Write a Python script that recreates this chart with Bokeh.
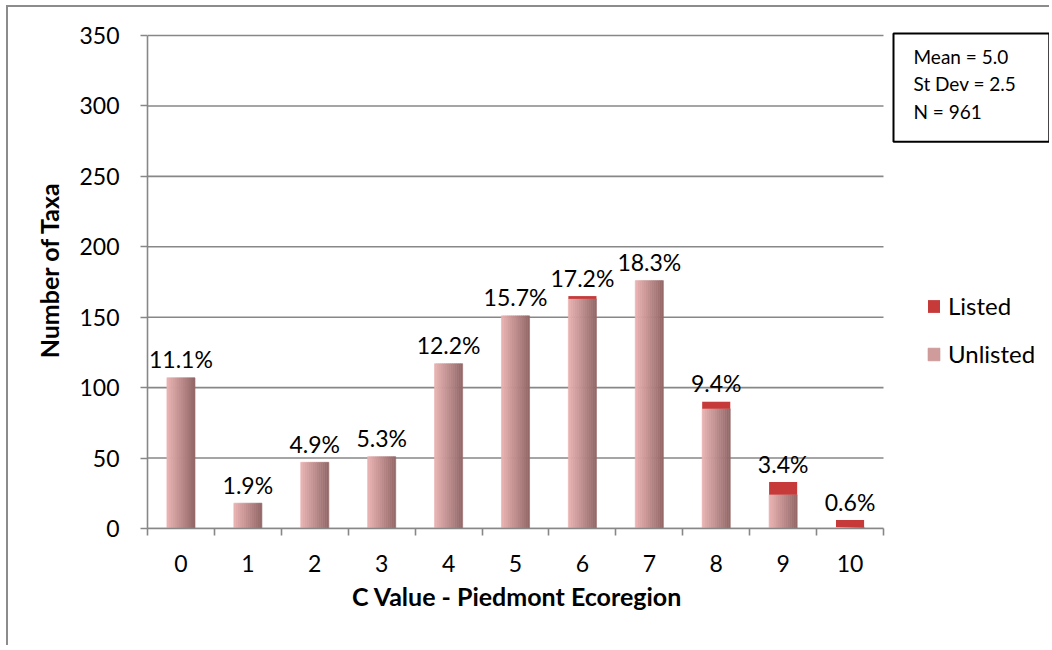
import numpy as np
from bokeh.plotting import figure
from bokeh.models import ColumnDataSource, Range1d, FixedTicker, Label, Legend, LegendItem, Title
from bokeh.transform import dodge
from bokeh.core.properties import value
from bokeh.embed import file_html
from bokeh.resources import INLINE

# ---------------- data ----------------
c_values = list(range(11))
unlisted = [107, 18, 47, 51, 117, 151, 163, 176, 85, 24, 1]
listed = [0, 0, 0, 0, 0, 0, 2, 0, 5, 9, 5]
tick_labels = ["0", "1", "2", "3", "4", "5", "6", "7", "8", "9", "10"]
y_ticks = [0, 50, 100, 150, 200, 250, 300, 350]
stats_lines = ["Mean = 5.0", "St Dev = 2.5", "N = 961"]
x_title = "C Value - Piedmont Ecoregion"
y_title = "Number of Taxa"
series_names = ["Listed", "Unlisted"]

total = [u + l for u, l in zip(unlisted, listed)]
n_total = sum(total)
pct = ["%.1f%%" % (100.0 * t / n_total) for t in total]

src = ColumnDataSource(dict(c=c_values, unlisted=unlisted, listed=listed,
                            total=total, pct=pct))

FONT = "Lato"
GRID = "#878787"

# layout (canvas pixels): plotting area of the categories, and the wider frame
W, H = 1043, 640
PL, PR, PT, PB = 139, 875, 28, 521
FT = 24                      # frame top (a bit above the 350 line, for the stats box)
x0, x1 = c_values[0] - 0.5, c_values[-1] + 0.5
y0, y1 = y_ticks[0], y_ticks[-1]
ppx = (PR - PL) / (x1 - x0)
ppy = (PB - PT) / (y1 - y0)
x_end = x1 + (W - PR) / ppx
y_end = y1 + (PT - FT) / ppy

p = figure(width=W, height=H, output_backend="svg", toolbar_location=None,
           x_range=Range1d(x0, x_end), y_range=Range1d(y0, y_end))
p.min_border_left = PL
p.min_border_right = 0
p.min_border_top = FT
p.min_border_bottom = H - PB
p.outline_line_color = None
p.background_fill_color = "white"
p.border_fill_color = "white"
p.styles = {"border-top": "2px solid #8c8c8c", "border-left": "2px solid #8c8c8c",
            "margin-left": "6px", "margin-top": "5px"}

# ---------------- gridlines (only across the category area) ----------------
p.xgrid.visible = False
p.ygrid.visible = False
p.segment(x0=x0, x1=x1, y0=y_ticks, y1=y_ticks, line_color=GRID, line_width=1.6,
          level="underlay")

# ---------------- bars ----------------
BW = 0.42
NSTRIP = 14
c0 = np.array([233, 178, 178])
c1 = np.array([150, 106, 106])
strip_renderers = []
for i in range(NSTRIP):
    t = i / (NSTRIP - 1)
    rgb = (c0 + (c1 - c0) * t).astype(int)
    col = "#%02x%02x%02x" % tuple(rgb)
    off = -BW / 2 + (i + 0.5) * BW / NSTRIP
    r = p.vbar(x=dodge("c", off, range=p.x_range), top="unlisted", bottom=0,
               width=BW / NSTRIP, source=src, fill_color=col, line_color=col,
               line_width=0.6)
    strip_renderers.append(r)

listed_r = p.vbar(x="c", bottom="unlisted", top="total", width=BW, source=src,
                  fill_color="#c63a3a", line_color=None)

p.text(x="c", y=dodge("total", 13.0, range=p.y_range), text="pct", source=src,
       text_font=value(FONT), text_font_size="23px", text_align="center",
       text_baseline="alphabetic", text_color="black")

# ---------------- axes ----------------
xa = p.xaxis[0]
xa.bounds = (x0, x1)
xa.ticker = FixedTicker(ticks=c_values, minor_ticks=[c - 0.5 for c in c_values] + [x1])
xa.major_label_overrides = {c: l for c, l in zip(c_values, tick_labels)}
xa.major_tick_out = 0
xa.major_tick_in = 0
xa.minor_tick_out = 7
xa.minor_tick_in = 0
xa.minor_tick_line_color = GRID
xa.minor_tick_line_width = 1.6
xa.axis_line_color = GRID
xa.axis_line_width = 1.6
xa.major_label_text_font = FONT
xa.major_label_text_font_size = "23px"
xa.major_label_text_color = "black"
xa.major_label_standoff = 19

ya = p.yaxis[0]
ya.bounds = (y0, y1)
ya.ticker = FixedTicker(ticks=y_ticks)
ya.major_tick_out = 7
ya.major_tick_in = 0
ya.minor_tick_out = 0
ya.minor_tick_in = 0
ya.major_tick_line_color = GRID
ya.major_tick_line_width = 1.6
ya.axis_line_color = GRID
ya.axis_line_width = 1.6
ya.major_label_text_font = FONT
ya.major_label_text_font_size = "23px"
ya.major_label_text_color = "black"
ya.major_label_standoff = 21

# axis titles, centred on the category area rather than on the wider frame
XT_W = 327   # rendered width of the x title (px)
YT_H = 173   # rendered length of the y title (px)
xt = Title(text=x_title, align="left", offset=(PR - PL) / 2 - XT_W / 2,
           text_font=FONT, text_font_size="25px", text_font_style="bold",
           text_color="black", standoff=8)
p.add_layout(xt, "below")
yt = Title(text=y_title, align="right", offset=(PT - FT) + (PB - PT) / 2 - YT_H / 2 - 14,
           text_font=FONT, text_font_size="25px", text_font_style="bold",
           text_color="black", standoff=26)
p.add_layout(yt, "left")

# ---------------- legend ----------------
legend = Legend(items=[LegendItem(label=series_names[0], renderers=[listed_r]),
                       LegendItem(label=series_names[1], renderers=[strip_renderers[NSTRIP // 3]])],
                location=(779, 160), orientation="vertical")
legend.label_text_font = FONT
legend.label_text_font_size = "24px"
legend.label_text_color = "black"
legend.glyph_width = 15
legend.glyph_height = 16
legend.label_standoff = 7
legend.spacing = 19
legend.padding = 0
legend.margin = 0
legend.border_line_color = None
legend.background_fill_alpha = 0
p.add_layout(legend)

# ---------------- stats box ----------------
stats = Label(x=746, y=495, x_units="screen", y_units="screen",
              text="\n".join(stats_lines), text_font=FONT, text_font_size="19px",
              text_color="black", text_align="left", text_baseline="top",
              text_line_height=1.2,
              border_line_color="black", border_line_width=2,
              background_fill_color="white",
              padding=dict(left=20, right=33, top=11, bottom=19))
p.add_layout(stats)

open("out.html", "w").write(file_html(p, INLINE))
